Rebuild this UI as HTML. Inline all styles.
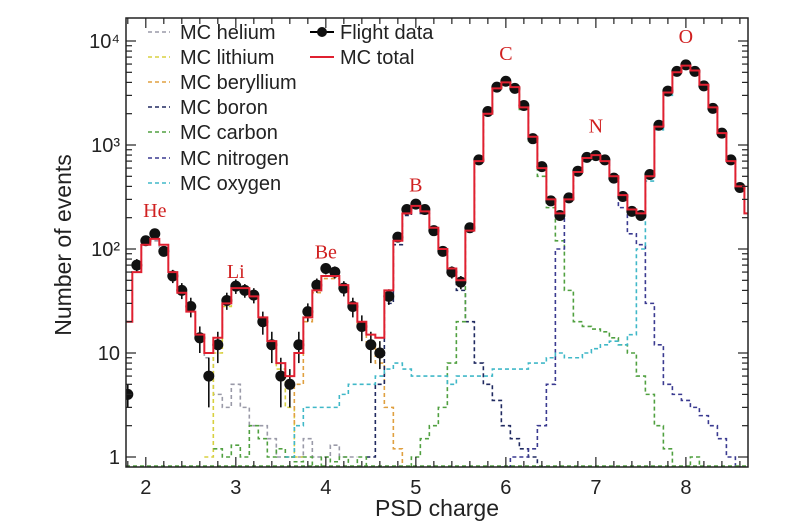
<!DOCTYPE html>
<html><head><meta charset="utf-8"><style>
body{margin:0;background:#fff}
svg text{font-family:"Liberation Sans",sans-serif}
</style></head><body>
<svg id="chart" width="800" height="524" viewBox="0 0 800 524" xmlns="http://www.w3.org/2000/svg">
<defs><clipPath id="clip"><rect x="126" y="18" width="622" height="449"/></clipPath></defs>
<rect x="0" y="0" width="800" height="524" fill="#fff"/>
<g id="series" clip-path="url(#clip)"></g>
<g id="axes"></g>
<g id="legend"></g>
</svg>
<script>
const step = 0.1;
const xStart = 1.8;
const totalVals = [20,60,110,125,110,60,38,25,15,10,14,30,42,42,35,22,13,8,6,10,22,40,55,55,45,30,20,15,14,40,120,220,260,230,160,100,65,50,150,700,2000,3500,4000,3600,2300,1200,600,300,220,300,550,750,800,700,500,330,240,220,500,1500,3200,5000,5800,5200,3800,2300,1300,700,400,220,200];
const flightVals = [4,70,120,140,95,55,40,28,14,6,12,32,44,40,36,20,12,6,5,12,25,45,65,60,42,28,18,12,10,35,130,240,270,240,150,95,60,48,160,720,2100,3600,4100,3500,2400,1150,620,290,210,310,560,760,790,720,480,320,230,210,520,1550,3300,5100,5900,5100,3700,2250,1300,720,390,230,210];
const flightErr = [1,10,12,12,10,8,7,6,4,3,4,6,7,6,6,5,4,3,2,4,5,7,8,8,7,6,5,4,3,6,11,15,16,15,12,10,8,7,13,27,46,60,64,59,49,34,25,17,14,18,24,28,28,27,22,18,15,14,23,39,57,71,77,71,61,47,36,27,20,15,14];
const elemNames = ["helium","lithium","beryllium","boron","carbon","nitrogen","oxygen"];
const elemColors = ["#9a9aa8","#d8d040","#e0a040","#202a60","#50a040","#3a3a90","#40b8c8"];
const heStart = 1.8, heVals = [20,60,110,120,105,60,38,25,15,9,4,3,5,3,2,2,1.5,1,1,1,1.5,1,1,1.3,1,1];
const liStart = 2.7, liVals = [1,10,28,40,42,35,22,13,7,3,1];
const beStart = 3.6, beVals = [1,5,20,38,52,52,42,28,18,12,8,3,1.2,0.8];
const bStart = 4.5, bVals = [1,5,30,110,210,250,220,150,95,60,40,20,8,5,3.5,2,1.5,1.2,1,0.8];
const cStart = 2.8, cVals = [1.2,1,1.3,1,2,1.5,1,1.2,1,0.9,1,0.8,1,0.9,1,0.8,1,0.8,0.8,0.8,0.8,0.8,1,1.5,2,3,8,20,150,700,2000,3400,4000,3500,2200,1100,500,250,120,40,20,18,17,16,14,12,10,6,4,2,1.2,0.8,0.8,1,0.8];
const nStart = 6.0, nVals = [0.8,1,1,1.2,2,5,100,300,550,750,800,680,450,250,140,110,30,12,5,4,3.5,3,2.5,2,1.5,1,0.8];
const oStart = 3.6, oVals = [1,2,3,3,3,3,4,5,5,5,6,7,8,7,6,6,6,6,5,6,6,6,6,7,7,7,7,8,8,9,10,9,9,10,11,12,13,12,15,100,450,1400,3000,4800,5800,5200,3800,2300,1300,700,400,220,200];
const xTicks = [2,3,4,5,6,7,8];
const yTickLabels = ["1","10","10²","10³","10⁴"];

const L=126,R=748,T=18,B=467;
const x0=1.78, x1=8.69;
const X = v => L + (v-x0)/(x1-x0)*(R-L);
const y1px=457, dec=104;
const Y = v => Math.min(B, y1px - Math.log10(Math.max(v,0.5))*dec);
const NS="http://www.w3.org/2000/svg";
function mk(tag, attrs, parent){const e=document.createElementNS(NS,tag);for(const k in attrs)e.setAttribute(k,attrs[k]);parent.appendChild(e);return e;}
const S=document.getElementById('series'), A=document.getElementById('axes'), G=document.getElementById('legend');

function stepPath(start, vals){
  let d="";
  vals.forEach((v,i)=>{const xa=X(start+i*step-step/2),xb=X(start+i*step+step/2);const y=Y(v);
    d+=(i===0?"M"+xa+","+y:"L"+xa+","+y)+"L"+xb+","+y;});
  return d;
}
const comps=[[heStart,heVals],[liStart,liVals],[beStart,beVals],[bStart,bVals],[cStart,cVals],[nStart,nVals],[oStart,oVals]];
comps.forEach((c,k)=>{
  const p=mk('path',{d:stepPath(c[0],c[1]),fill:'none',stroke:elemColors[k],'stroke-width':1.6,'stroke-dasharray':'4,3'},S);
  
  
});
mk('line',{x1:L,x2:R,y1:B-1,y2:B-1,stroke:'#50a040','stroke-width':1.5,'stroke-dasharray':'4,3'},S);
flightVals.forEach((v,i)=>{
  const cx=X(xStart+i*step);
  if(cx<L||cx>R) return;
  const g=mk('g',{},S);
  
  
  mk('line',{x1:cx,x2:cx,y1:Y(v+flightErr[i]),y2:Y(Math.max(v-flightErr[i],0.6)),stroke:'#000','stroke-width':1.5},g);
  mk('circle',{cx:cx,cy:Y(v),r:5.5,fill:'#111'},g);
});
const tp=mk('path',{d:stepPath(xStart,totalVals),fill:'none',stroke:'#e02030','stroke-width':2},S);



const fr=mk('rect',{x:L,y:T,width:R-L,height:B-T,fill:'none',stroke:'#222','stroke-width':1.5},A);


for(let v=1.8;v<=8.71;v+=0.2){const px=X(v);const major=Math.abs(v-Math.round(v))<0.01;
  mk('line',{x1:px,x2:px,y1:B,y2:B-(major?10:6),stroke:'#222','stroke-width':1.2},A);
  mk('line',{x1:px,x2:px,y1:T,y2:T+(major?10:6),stroke:'#222','stroke-width':1.2},A);}
xTicks.forEach(t=>{const e=mk('text',{x:X(t),y:B+27,'font-size':20,'text-anchor':'middle',fill:'#222'},A);e.textContent=t;
  });
for(let d=0;d<5;d++){for(let m=1;m<10;m++){const v=Math.pow(10,d)*m;const py=Y(v);if(py<T||py>B)continue;
  const len=m===1?10:6;
  mk('line',{x1:L,x2:L+len,y1:py,y2:py,stroke:'#222','stroke-width':1.2},A);
  mk('line',{x1:R,x2:R-len,y1:py,y2:py,stroke:'#222','stroke-width':1.2},A);}
  const e=mk('text',{x:L-6,y:Y(Math.pow(10,d))+7,'font-size':20,'text-anchor':'end',fill:'#222'},A);
  e.textContent=yTickLabels[d];
  }
const xt=mk('text',{x:437,y:516,'font-size':23,'text-anchor':'middle',fill:'#222'},A);xt.textContent='PSD charge';

const yt=mk('text',{x:0,y:0,'font-size':23,'text-anchor':'middle',fill:'#222',transform:'translate(71,245) rotate(-90)'},A);yt.textContent='Number of events';

const lbls=[["He",2.1,170],["Li",3.0,44],["Be",4.0,68],["B",5.0,300],["C",6.0,5500],["N",7.0,1100],["O",8.0,8000]];
lbls.forEach(l=>{const e=mk('text',{x:X(l[1]),y:Y(l[2])-8,'font-size':20,'text-anchor':'middle',fill:'#d02020'},A);
  e.style.fontFamily='"Liberation Serif",serif';e.textContent=l[0];
  });
const rows=[32,57,82,107,132,158,183];
elemNames.forEach((n,k)=>{const g=mk('g',{},G);
  
  mk('line',{x1:148,x2:170,y1:rows[k],y2:rows[k],stroke:elemColors[k],'stroke-width':1.6,'stroke-dasharray':'4,3'},g);
  const t=mk('text',{x:180,y:rows[k]+7,'font-size':20,fill:'#222'},g);t.textContent='MC '+n;});
const g1=mk('g',{},G);
mk('line',{x1:310,x2:334,y1:32,y2:32,stroke:'#000','stroke-width':2},g1);mk('circle',{cx:322,cy:32,r:5,fill:'#111'},g1);
let t1=mk('text',{x:340,y:39,'font-size':20,fill:'#222'},g1);t1.textContent='Flight data';
const g2=mk('g',{},G);
mk('line',{x1:310,x2:334,y1:57,y2:57,stroke:'#e02030','stroke-width':2},g2);
let t2=mk('text',{x:340,y:64,'font-size':20,fill:'#222'},g2);t2.textContent='MC total';
</script>
</body></html>
